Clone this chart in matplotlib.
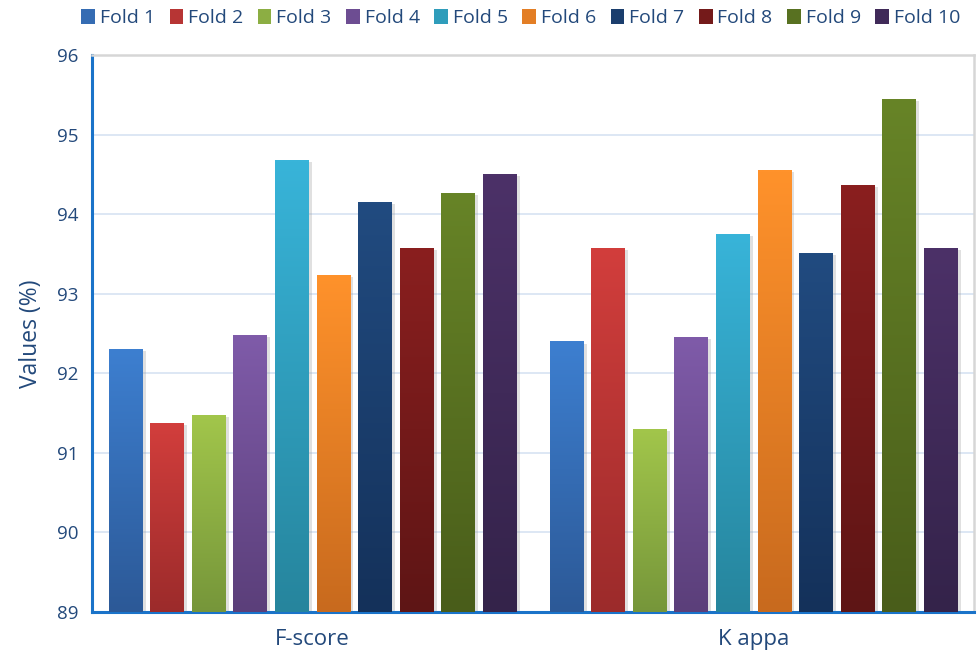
import numpy as np
import matplotlib
matplotlib.use("Agg")
import matplotlib.pyplot as plt
from matplotlib.patches import Rectangle, Patch
from matplotlib.colors import to_rgb
import matplotlib.patheffects as pe

plt.rcParams['font.family'] = ['Open Sans', 'DejaVu Sans']

categories = ["F-score", "K appa"]
folds = ["Fold 1", "Fold 2", "Fold 3", "Fold 4", "Fold 5",
         "Fold 6", "Fold 7", "Fold 8", "Fold 9", "Fold 10"]
fscore = [92.30, 91.37, 91.48, 92.48, 94.68, 93.24, 94.15, 93.58, 94.27, 94.50]
kappa = [92.40, 93.58, 91.30, 92.46, 93.75, 94.55, 93.51, 94.37, 95.45, 93.58]

top_colors = ["#3d7fd0", "#d23e3c", "#a2c64b", "#7f5ba9", "#38b4d9",
              "#ff922b", "#214b80", "#8a1f1f", "#678427", "#4c3168"]
bottom_colors = ["#2c5997", "#9c2b2b", "#76963a", "#5b3f7a", "#26859d",
                 "#c86a1e", "#14315a", "#5e1515", "#495d1a", "#34234a"]

text_color = "#23497b"
ymin, ymax = 89, 96

fig = plt.figure(figsize=(9.77, 6.55), dpi=100)
ax = fig.add_axes([92 / 977, 1 - 612 / 655, (974 - 92) / 977, (612 - 55) / 655])
ax.set_xlim(-0.5, 1.5)
ax.set_ylim(ymin, ymax)

slot = 0.0942
width = 0.0759
series = [fscore, kappa]


def gradient_bar(x0, h, c_top, c_bot):
    rect = Rectangle((x0, ymin), width, h - ymin, facecolor="white",
                     edgecolor="none", zorder=2)
    rect.set_path_effects([pe.SimplePatchShadow(offset=(2.5, -1.5),
                                                shadow_rgbFace="#9a9a9a",
                                                alpha=0.3),
                           pe.Normal()])
    ax.add_patch(rect)
    t = np.array(to_rgb(c_top))
    b = np.array(to_rgb(c_bot))
    n = 128
    f = np.linspace(0, 1, n)[:, None]
    grad = (t * (1 - f) + b * f)[:, None, :]
    im = ax.imshow(grad, extent=(x0, x0 + width, ymin, h), origin="upper",
                   aspect="auto", interpolation="bilinear", zorder=3)
    im.set_clip_path(rect)


for ci, vals in enumerate(series):
    for i, v in enumerate(vals):
        x0 = ci + (i - 4.5) * slot - width / 2
        gradient_bar(x0, v, top_colors[i], bottom_colors[i])

ax.set_xlim(-0.5, 1.5)
ax.set_ylim(ymin, ymax)

ax.set_yticks(np.arange(ymin, ymax + 1, 1))
ax.yaxis.grid(True, color="#dde7f4", linewidth=1.4, zorder=0)
ax.set_axisbelow(True)
ax.set_xticks([0, 1])
ax.set_xticklabels(categories)
ax.tick_params(axis="both", length=0, colors=text_color, labelsize=13.5)
ax.tick_params(axis="x", pad=12, labelsize=16)
ax.tick_params(axis="y", pad=10)

for s in ["left", "bottom"]:
    ax.spines[s].set_color("#1a73c9")
    ax.spines[s].set_linewidth(2.2)
for s in ["top", "right"]:
    ax.spines[s].set_color("#d6d6d6")
    ax.spines[s].set_linewidth(1.8)

ax.set_ylabel("Values (%)", color=text_color, fontsize=16.5, labelpad=10)

handles = [Patch(facecolor=((np.array(to_rgb(t)) + np.array(to_rgb(b))) / 2),
                 edgecolor="none") for t, b in zip(top_colors, bottom_colors)]
leg = fig.legend(handles, folds, loc="center", bbox_to_anchor=(0.533, 0.972),
                 ncol=10, frameon=False, fontsize=14, handlelength=0.7,
                 handleheight=0.8, handletextpad=0.25, columnspacing=0.75,
                 borderpad=0)
for t in leg.get_texts():
    t.set_color(text_color)

fig.savefig("out.png", dpi=100)
